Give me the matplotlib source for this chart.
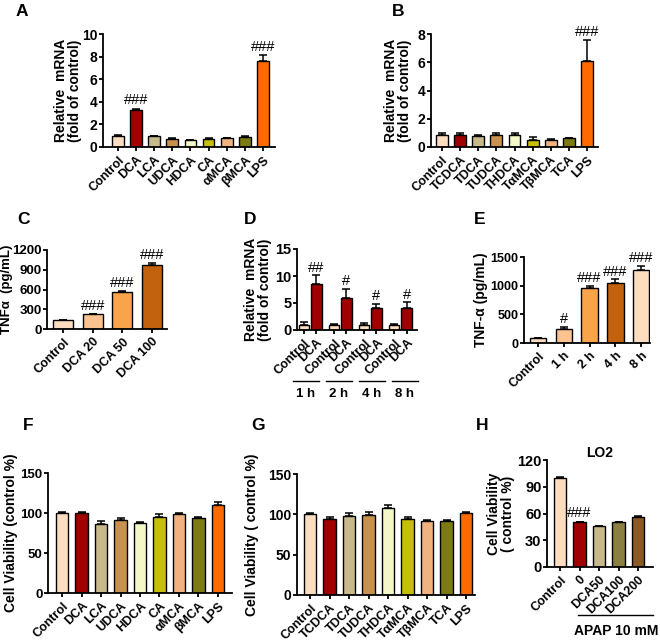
import matplotlib
matplotlib.use("Agg")
import matplotlib.pyplot as plt
import matplotlib.transforms as mtransforms
import numpy as np

plt.rcParams['font.family'] = ['Liberation Sans', 'DejaVu Sans']
plt.rcParams['font.weight'] = 'bold'
plt.rcParams['axes.labelweight'] = 'bold'

W, H = 660, 642

# colours
PEACH = '#FDDDC0'
DRED = '#A00000'
KHAKI = '#C8B98A'
TAN = '#C8924E'
LYEL = '#F4F8C6'
OLYEL = '#C6BF0A'
LORG = '#F2B280'
OLIVE = '#7C7A12'
ORANGE = '#FF6A00'
COL9 = [PEACH, DRED, KHAKI, TAN, LYEL, OLYEL, LORG, OLIVE, ORANGE]

# A
a_labels = ['Control', 'DCA', 'LCA', 'UDCA', 'HDCA', 'CA', 'αMCA', 'βMCA', 'LPS']
a_vals = [1.0, 3.25, 0.95, 0.72, 0.6, 0.75, 0.78, 0.88, 7.6]
a_err = [0.08, 0.15, 0.05, 0.1, 0.05, 0.06, 0.06, 0.08, 0.55]
a_sig = ['', '###', '', '', '', '', '', '', '###']

# B
b_labels = ['Control', 'TCDCA', 'TDCA', 'TUDCA', 'THDCA', 'TαMCA', 'TβMCA', 'TCA', 'LPS']
b_vals = [0.85, 0.88, 0.8, 0.85, 0.88, 0.52, 0.5, 0.62, 6.1]
b_err = [0.12, 0.08, 0.05, 0.15, 0.08, 0.22, 0.1, 0.05, 1.45]
b_sig = ['', '', '', '', '', '', '', '', '###']

# C
c_labels = ['Control', 'DCA 20', 'DCA 50', 'DCA 100']
c_vals = [130, 225, 560, 975]
c_err = [10, 10, 20, 25]
c_sig = ['', '###', '###', '###']
c_cols = [PEACH, '#FCC38F', '#F9A44A', '#C2620F']

# D
d_labels = ['Control', 'DCA'] * 4
d_vals = [1.0, 8.6, 0.9, 5.9, 1.0, 4.1, 0.9, 4.1]
d_err = [0.4, 1.5, 0.15, 1.7, 0.35, 0.8, 0.15, 1.0]
d_sig = ['', '##', '', '#', '', '#', '', '#']
d_groups = ['1 h', '2 h', '4 h', '8 h']

# E
e_labels = ['Control', '1 h', '2 h', '4 h', '8 h']
e_vals = [80, 250, 960, 1050, 1270]
e_err = [10, 25, 40, 60, 70]
e_sig = ['', '#', '###', '###', '###']
e_cols = [PEACH, '#FCC38F', '#F9A44A', '#C2620F', PEACH]

# F
f_vals = [100, 100, 86, 91, 87, 95, 98.5, 94, 110]
f_err = [1.5, 1.5, 4, 3, 2, 3.5, 1, 1.5, 4]

# G
g_vals = [100, 94, 98.5, 99.5, 108, 94, 92, 92, 102]
g_err = [2, 2.5, 3.5, 3.5, 4, 2.5, 1.5, 1, 1.5]

# H
h_labels = ['Control', '0', 'DCA50', 'DCA100', 'DCA200']
h_vals = [99.5, 50, 45.5, 50, 56]
h_err = [1, 1, 0.8, 1, 1]
h_sig = ['', '###', '', '', '']
h_cols = [PEACH, DRED, KHAKI, '#8C8040', '#8B5A24']

fig = plt.figure(figsize=(W / 100, H / 100), dpi=100)


def make_ax(x0, x1, y0, y1):
    return fig.add_axes([x0 / W, 1 - y1 / H, (x1 - x0) / W, (y1 - y0) / H])


def bars(ax, x, vals, err, cols, labels, ylim, yticks, width=0.65, sig=None, fs=9, yfs=10):
    ax.bar(x, vals, width=width, color=cols, edgecolor='black', linewidth=1.0, zorder=2)
    ax.errorbar(x, vals, yerr=[np.zeros(len(vals)), err], fmt='none', ecolor='black',
                elinewidth=1.1, capsize=3, capthick=1.1, zorder=1)
    ax.set_ylim(*ylim)
    ax.set_yticks(yticks)
    ax.set_xticks(x)
    ax.set_xticklabels(labels, rotation=45, ha='right', rotation_mode='anchor', fontsize=fs)
    for s in ['top', 'right']:
        ax.spines[s].set_visible(False)
    for s in ['left', 'bottom']:
        ax.spines[s].set_linewidth(1.3)
    ax.tick_params(width=1.3, length=3, pad=2)
    ax.tick_params(axis='x', labelsize=fs)
    ax.tick_params(axis='y', labelsize=yfs, pad=1)
    if sig:
        for xi, v, e, s in zip(x, vals, err, sig):
            if s:
                ax.text(xi, v + e + ylim[1] * 0.01, s, ha='center', va='bottom',
                        fontsize=10.5, fontweight='normal')


def ylab(ax, text, xr, fs=10):
    ax.set_ylabel(text, fontsize=fs, linespacing=1.0)
    ax.yaxis.set_label_coords(xr, 0.5)


# A
axA = make_ax(103, 275, 34, 147)
xa = np.arange(9)
bars(axA, xa, a_vals, a_err, COL9, a_labels, (0, 10), [0, 2, 4, 6, 8, 10], sig=a_sig)
axA.set_xlim(-0.83, 8.67)
ylab(axA, 'Relative  mRNA\n(fold of control)', -0.122)

# B
axB = make_ax(431, 598, 34, 147)
bars(axB, xa, b_vals, b_err, COL9, b_labels, (0, 8), [0, 2, 4, 6, 8], sig=b_sig)
axB.set_xlim(-0.6, 8.6)
ylab(axB, 'Relative  mRNA\n(fold of control)', -0.114)

# C
axC = make_ax(47, 167, 250, 329)
xc = np.arange(4)
bars(axC, xc, c_vals, c_err, c_cols, c_labels, (0, 1200), [0, 300, 600, 900, 1200],
     width=0.67, sig=c_sig, yfs=9.5)
axC.set_xlim(-0.54, 3.5)
ylab(axC, 'TNFα  (pg/mL)', -0.28, fs=9.5)

# D
axD = make_ax(297, 417, 249, 330)
xd = np.array([0, 1, 2.45, 3.45, 4.9, 5.9, 7.35, 8.35])
bars(axD, xd, d_vals, d_err, [PEACH, DRED] * 4, d_labels, (0, 15), [0, 5, 10, 15],
     width=0.85, sig=d_sig, yfs=10.5)
axD.set_xlim(-0.57, 9.2)
ylab(axD, 'Relative  mRNA\n(fold of control)', -0.205)
trD = mtransforms.blended_transform_factory(axD.transData, axD.transAxes)
for i, g in enumerate(d_groups):
    cx = (xd[2 * i] + xd[2 * i + 1]) / 2 - 0.34 + 0.23 * i
    axD.plot([cx - 1.05, cx + 1.05], [-0.63, -0.63], color='black', lw=1, transform=trD, clip_on=False)
    axD.text(cx, -0.72, g, transform=trD, ha='center', va='top', fontsize=9.5)

# E
axE = make_ax(524, 650, 257, 343)
xe = np.arange(5)
bars(axE, xe, e_vals, e_err, e_cols, e_labels, (0, 1500), [0, 500, 1000, 1500], sig=e_sig, yfs=9)
axE.set_xlim(-0.55, 4.35)
ylab(axE, 'TNF-α (pg/mL)', -0.285)

# F
axF = make_ax(48, 232, 473, 593)
bars(axF, xa, f_vals, f_err, COL9, a_labels, (0, 150), [0, 50, 100, 150], yfs=9.5)
axF.set_xlim(-0.72, 8.72)
ylab(axF, 'Cell Viability (control %)', -0.165)

# G
axG = make_ax(297, 475, 474, 595)
bars(axG, xa, g_vals, g_err, COL9, b_labels, (0, 150), [0, 50, 100, 150], yfs=10)
axG.set_xlim(-0.67, 8.46)
ylab(axG, 'Cell Viability ( control %)', -0.215)

# H
axH = make_ax(547, 653, 460, 567)
xh = np.arange(5)
bars(axH, xh, h_vals, h_err, h_cols, h_labels, (0, 120), [0, 30, 60, 90, 120], sig=h_sig, yfs=10.5)
axH.set_xlim(-0.67, 4.77)
ylab(axH, 'Cell Viability\n( control %)', -0.30)
axH.set_title('LO2', fontsize=10, fontweight='bold', pad=2)
trH = mtransforms.blended_transform_factory(axH.transData, axH.transAxes)
axH.plot([0.92, 4.77], [-0.45, -0.45], color='black', lw=1, transform=trH, clip_on=False)
axH.text(2.9, -0.53, 'APAP 10 mM', transform=trH, ha='center', va='top', fontsize=10)

# panel letters
for lab, px, py in [('A', 22, 12), ('B', 398, 12), ('C', 23, 220), ('D', 250, 220),
                    ('E', 480, 220), ('F', 28, 425), ('G', 258, 425), ('H', 482, 425)]:
    fig.text(px / W, 1 - py / H, lab, fontsize=12.5, fontweight='bold', ha='center', va='center')

fig.savefig('out.png', dpi=100)
